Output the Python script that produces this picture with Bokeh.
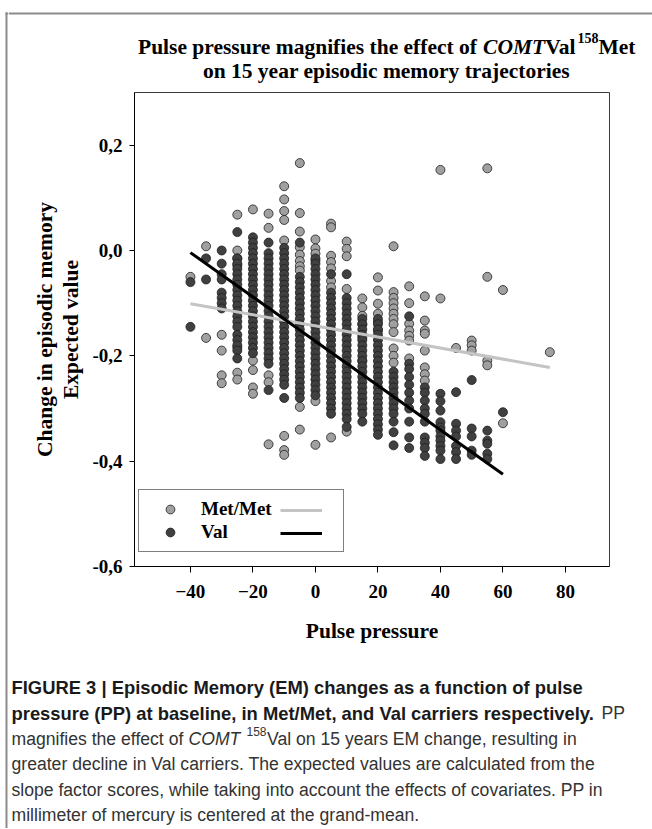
from bokeh.plotting import figure
from bokeh.models import (Range1d, Label, Span, BoxAnnotation, FixedTicker, LinearAxis,
                          Legend, LegendItem, ColumnDataSource)
from bokeh.layouts import row, column
from bokeh.embed import file_html
from bokeh.resources import INLINE

# ---------------- data ----------------
MET_COLUMNS = [
    (-40, [-0.05]),
    (-35, [0.008, -0.166]),
    (-30, [-0.16, -0.19, -0.237, -0.252]),
    (-25, [0.068, 0.0, -0.015, -0.028, -0.184, -0.232, -0.245]),
    (-20, [0.078, -0.209, -0.227, -0.26, -0.272]),
    (-15, [0.07, 0.043, -0.237, -0.25, -0.368]),
    (-10, [0.122, 0.097, 0.075, 0.058, 0.019, -0.352, -0.379, -0.388]),
    (-5, [0.166, 0.071, 0.036, 0.006, -0.008, -0.02, -0.03, -0.038, -0.297, -0.34]),
    (0, [0.021, 0.004, -0.006, -0.019, -0.286, -0.369]),
    (5, [0.051, 0.044, -0.01, -0.022, -0.034, -0.058, -0.07, -0.355]),
    (10, [0.017, 0.003, -0.011, -0.073, -0.344]),
    (15, [-0.091, -0.108, -0.124, -0.14, -0.165, -0.209]),
    (20, [-0.051, -0.076, -0.101, -0.12, -0.136, -0.152]),
    (25, [0.008, -0.079, -0.09, -0.1, -0.11, -0.12, -0.13, -0.14, -0.155, -0.186, -0.2, -0.213]),
    (30, [-0.068, -0.1, -0.139, -0.152, -0.162, -0.171, -0.205]),
    (35, [-0.087, -0.133, -0.152, -0.158, -0.19, -0.222, -0.235, -0.247]),
    (40, [0.153, -0.091]),
    (45, [-0.185]),
    (50, [-0.171, -0.18, -0.19]),
    (55, [0.156, -0.05, -0.209, -0.218]),
    (60, [-0.075, -0.328]),
    (75, [-0.193]),
]

VAL_COLUMNS = [
    (-40, [-0.06, -0.145]),
    (-35, [-0.015, -0.055]),
    (-30, [0.0, -0.025, -0.045, -0.055, -0.08, -0.09, -0.10, -0.11]),
    (-25, [0.035, -0.015, -0.025, -0.035, -0.045, -0.055, -0.065, -0.075, -0.085, -0.095,
           -0.105, -0.115, -0.125, -0.135, -0.145, -0.16, -0.17, -0.18, -0.19, -0.205]),
    (-20, [0.025, 0.015, 0.005, -0.005, -0.015, -0.025, -0.035, -0.045, -0.055, -0.065,
           -0.075, -0.085, -0.095, -0.105, -0.115, -0.125, -0.135, -0.145, -0.155, -0.165,
           -0.175, -0.185, -0.195]),
    (-15, [0.015, -0.005, -0.015, -0.025, -0.035, -0.045, -0.055, -0.065, -0.075, -0.085,
           -0.095, -0.105, -0.115, -0.125, -0.135, -0.145, -0.155, -0.165, -0.175, -0.185,
           -0.195, -0.205, -0.215, -0.265]),
    (-10, [0.005, -0.005, -0.015, -0.025, -0.035, -0.045, -0.055, -0.065, -0.075, -0.085,
           -0.095, -0.105, -0.115, -0.125, -0.135, -0.145, -0.155, -0.165, -0.175, -0.185,
           -0.195, -0.205, -0.215, -0.225, -0.235, -0.245, -0.255, -0.28]),
    (-5, [0.015, -0.05, -0.06, -0.07, -0.08, -0.09, -0.10, -0.11, -0.12, -0.13, -0.14,
          -0.15, -0.16, -0.17, -0.18, -0.19, -0.20, -0.21, -0.22, -0.23, -0.24, -0.25,
          -0.26, -0.27, -0.28]),
    (0, [-0.015, -0.025, -0.035, -0.045, -0.055, -0.065, -0.075, -0.085, -0.095, -0.105,
         -0.115, -0.125, -0.135, -0.145, -0.155, -0.165, -0.175, -0.185, -0.195, -0.205,
         -0.215, -0.225, -0.235, -0.245, -0.255, -0.265, -0.275]),
    (5, [-0.045, -0.08, -0.09, -0.10, -0.11, -0.12, -0.13, -0.14, -0.15, -0.16, -0.17,
         -0.18, -0.19, -0.20, -0.21, -0.22, -0.23, -0.24, -0.25, -0.26, -0.27, -0.28,
         -0.29, -0.30, -0.31]),
    (10, [-0.045, -0.09, -0.10, -0.11, -0.12, -0.13, -0.14, -0.15, -0.16, -0.17, -0.18,
          -0.19, -0.20, -0.21, -0.22, -0.23, -0.24, -0.25, -0.26, -0.27, -0.28, -0.29,
          -0.30, -0.31, -0.32, -0.335]),
    (15, [-0.13, -0.14, -0.15, -0.16, -0.17, -0.18, -0.19, -0.20, -0.21, -0.22, -0.23,
          -0.24, -0.25, -0.26, -0.27, -0.28, -0.29, -0.30, -0.31, -0.325]),
    (20, [-0.13, -0.14, -0.15, -0.16, -0.17, -0.18, -0.19, -0.20, -0.21, -0.22, -0.23,
          -0.24, -0.25, -0.26, -0.27, -0.28, -0.29, -0.30, -0.31, -0.32, -0.33, -0.34, -0.35]),
    (25, [-0.23, -0.24, -0.25, -0.26, -0.27, -0.28, -0.29, -0.30, -0.31, -0.325, -0.345, -0.37]),
    (30, [-0.125, -0.215, -0.225, -0.24, -0.255, -0.27, -0.285, -0.30, -0.325, -0.355, -0.375]),
    (35, [-0.26, -0.27, -0.285, -0.30, -0.31, -0.325, -0.355, -0.365, -0.375, -0.39]),
    (40, [-0.272, -0.286, -0.304, -0.326, -0.336, -0.342, -0.353, -0.361, -0.371, -0.38, -0.396]),
    (45, [-0.269, -0.329, -0.342, -0.353, -0.371, -0.383, -0.396]),
    (50, [-0.246, -0.338, -0.353, -0.38, -0.388]),
    (55, [-0.342, -0.361, -0.367, -0.386, -0.396]),
    (60, [-0.307]),
]

# fitted regression lines (end points)
MET_FIT_PP = [-40, 75]
MET_FIT_EM = [-0.101, -0.222]
VAL_FIT_PP = [-40, 60]
VAL_FIT_EM = [-0.004, -0.425]

X_TICKS = [-40, -20, 0, 20, 40, 60, 80]
Y_TICKS = [-0.6, -0.4, -0.2, 0.0, 0.2]
Y_TICK_LABELS = ["-0,6", "-0,4", "-0,2", "0,0", "0,2"]

GROUP_NAMES = ["Met/Met", "Val"]


def flatten(cols):
    xs, ys = [], []
    for x, vals in cols:
        for v in vals:
            xs.append(x)
            ys.append(v)
    return xs, ys


met_x, met_y = flatten(MET_COLUMNS)
val_x, val_y = flatten(VAL_COLUMNS)

SERIF = "Liberation Serif"
SANS = "Liberation Sans"
W = 644          # width of the stacked panels (page x 8..652)
TOTAL_H = 828
BORDER = "#8c8c8c"


def blank(w, h, xr, yr):
    f = figure(width=w, height=h, x_range=Range1d(*xr), y_range=Range1d(*yr),
               min_border=0, toolbar_location=None, output_backend="svg",
               x_axis_location=None, y_axis_location=None, outline_line_color=None,
               background_fill_color="white", border_fill_color="white",
               frame_align=False)
    f.xgrid.visible = False
    f.ygrid.visible = False
    return f


# ---------------- left border strip (page x 0..8) ----------------
strip = blank(8, TOTAL_H, (0, 8), (TOTAL_H, 0))
strip.add_layout(BoxAnnotation(left=5, right=7, top=12, bottom=TOTAL_H,
                               fill_color=BORDER, fill_alpha=1, line_color=None))
strip.add_layout(BoxAnnotation(left=5, right=8, top=12, bottom=14,
                               fill_color=BORDER, fill_alpha=1, line_color=None))

# ---------------- title (page y 0..88) ----------------
top = blank(W, 88, (8, 652), (88, 0))
top.add_layout(Span(location=13, dimension="width", line_color=BORDER, line_width=2))


def lab(f, x, y, text, size, style="bold", font=SERIF, align="left", color="black"):
    f.add_layout(Label(x=x, y=y, text=text, text_font=font, text_font_style=style,
                       text_font_size=size, text_align=align, text_baseline="alphabetic",
                       text_color=color))


TS = "21.5px"
T1 = 46
T2 = 70
lab(top, 137.5, T1, "Pulse pressure magnifies the effect of ", TS)
lab(top, 482.6, T1, "COMT", TS, style="bold italic")
lab(top, 544.7, T1, "Val", TS)
lab(top, 577.0, T1 - 9, "158", "14px")
lab(top, 598.0, T1, "Met", TS)
lab(top, 386, T2, "on 15 year episodic memory trajectories", TS, align="center")

# ---------------- main plot (page y 88..662, frame x 134..609, y 92..566) ----------------
p = figure(width=W, height=574, x_range=Range1d(-57.9, 94.1), y_range=Range1d(-0.6, 0.3),
           min_border_left=126, min_border_right=43, min_border_top=4, min_border_bottom=96,
           toolbar_location=None, output_backend="svg", frame_align=False,
           background_fill_color="white", border_fill_color="white",
           outline_line_color="#3a3a3a", outline_line_width=1)
p.xgrid.visible = False
p.ygrid.visible = False

met_src = ColumnDataSource(dict(x=met_x, y=met_y))
val_src = ColumnDataSource(dict(x=val_x, y=val_y))

r_met = p.scatter("x", "y", source=met_src, marker="circle", size=9,
                  fill_color="#a0a0a0", line_color="#1e1e1e", line_width=0.8)
r_val = p.scatter("x", "y", source=val_src, marker="circle", size=9,
                  fill_color="#404040", line_color="#1e1e1e", line_width=0.8)
l_met = p.line(MET_FIT_PP, MET_FIT_EM, line_color="#c4c4c4", line_width=3)
l_val = p.line(VAL_FIT_PP, VAL_FIT_EM, line_color="black", line_width=3)

xa = p.xaxis[0]
xa.ticker = FixedTicker(ticks=X_TICKS)
ya = p.yaxis[0]
ya.ticker = FixedTicker(ticks=Y_TICKS)
ya.major_label_overrides = dict(zip(Y_TICKS, Y_TICK_LABELS))
for ax in (xa, ya):
    ax.axis_line_color = "black"
    ax.axis_line_width = 1
    ax.major_tick_line_color = "black"
    ax.major_tick_in = 0
    ax.minor_tick_line_color = None
    ax.major_label_text_font = SERIF
    ax.major_label_text_font_style = "bold"
    ax.major_label_text_font_size = "19px"
    ax.major_label_text_color = "black"
    ax.axis_label_text_font = SERIF
    ax.axis_label_text_font_style = "bold"
    ax.axis_label_text_font_size = "21.5px"
    ax.axis_label_text_color = "black"
xa.major_tick_out = 6
xa.major_label_standoff = 12
xa.axis_label = "Pulse pressure"
xa.axis_label_standoff = 18
ya.major_tick_out = 5
ya.major_label_standoff = 7
ya.axis_label = "Expected value"
ya.axis_label_standoff = 6

ya2 = LinearAxis(ticker=FixedTicker(ticks=[]), axis_label="Change in episodic memory",
                 axis_line_color=None, major_tick_line_color=None, minor_tick_line_color=None,
                 axis_label_standoff=0, axis_label_text_font=SERIF,
                 axis_label_text_font_style="bold", axis_label_text_font_size="21.5px",
                 axis_label_text_color="black")
p.add_layout(ya2, "left")

leg1 = Legend(items=[LegendItem(label=GROUP_NAMES[0], renderers=[r_met]),
                     LegendItem(label=GROUP_NAMES[1], renderers=[r_val])],
              location=(4, 14), orientation="vertical", padding=8, spacing=1, margin=0,
              glyph_width=46, glyph_height=22, label_standoff=8, label_width=134,
              label_height=22,
              label_text_font=SERIF, label_text_font_style="bold", label_text_font_size="19px",
              label_text_color="black",
              border_line_color="black", border_line_width=1,
              background_fill_color="white", background_fill_alpha=1)
leg2 = Legend(items=[LegendItem(label=" ", renderers=[l_met]),
                     LegendItem(label=" ", renderers=[l_val])],
              location=(138, 14), orientation="vertical", padding=8, spacing=1, margin=0,
              glyph_width=42, glyph_height=22, label_standoff=0, label_width=0,
              label_height=22,
              label_text_font=SERIF, label_text_font_style="bold", label_text_font_size="19px",
              border_line_alpha=0, background_fill_alpha=0)
p.add_layout(leg1)
p.add_layout(leg2)

# ---------------- caption (page y 662..828) ----------------
bot = blank(W, TOTAL_H - 662, (8, 652), (TOTAL_H, 662))
CB = "18.4px"   # bold lead-in
CR = "17.6px"   # regular text
B = "#1a1a1a"
R = "#333333"
C0 = 687
DL = 25.5
X0 = 11
lab(bot, X0, C0, "FIGURE 3 | Episodic Memory (EM) changes as a function of pulse", CB,
    font=SANS, color=B)
lab(bot, X0, C0 + DL, "pressure (PP) at baseline, in Met/Met, and Val carriers respectively.",
    CB, font=SANS, color=B)
lab(bot, 601, C0 + DL, "PP", CR, style="normal", font=SANS, color=R)
lab(bot, X0, C0 + 2 * DL, "magnifies the effect of ", CR, style="normal", font=SANS, color=R)
lab(bot, 188, C0 + 2 * DL, "COMT", CR, style="italic", font=SANS, color=R)
lab(bot, 246, C0 + 2 * DL - 7, "158", "12px", style="normal", font=SANS, color=R)
lab(bot, 266.5, C0 + 2 * DL, "Val on 15 years EM change, resulting in", CR, style="normal",
    font=SANS, color=R)
lab(bot, X0, C0 + 3 * DL,
    "greater decline in Val carriers. The expected values are calculated from the",
    CR, style="normal", font=SANS, color=R)
lab(bot, X0, C0 + 4 * DL,
    "slope factor scores, while taking into account the effects of covariates. PP in",
    CR, style="normal", font=SANS, color=R)
lab(bot, X0, C0 + 5 * DL, "millimeter of mercury is centered at the grand-mean.", CR,
    style="normal", font=SANS, color=R)

layout = row(strip, column(top, p, bot))

open("out.html", "w").write(file_html(layout, INLINE))
